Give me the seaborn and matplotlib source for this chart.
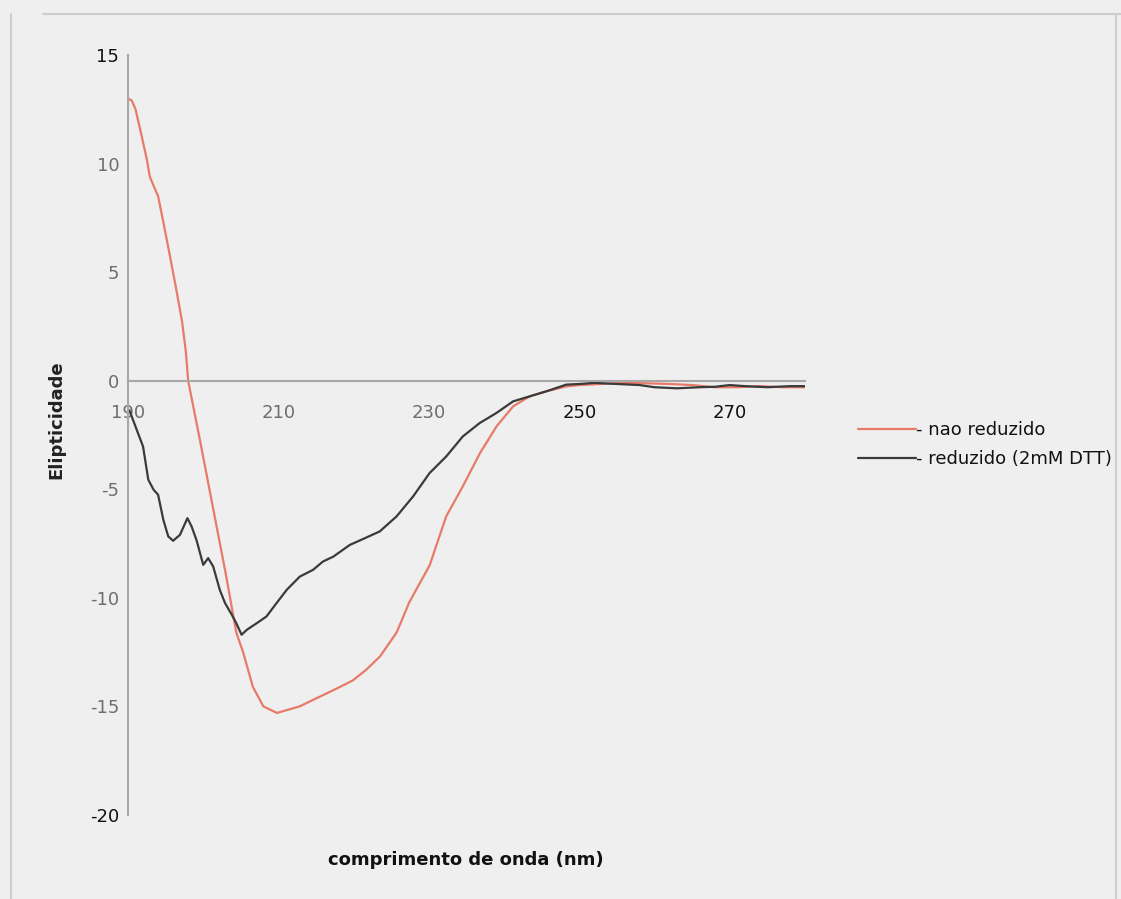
import numpy as np
import pandas as pd
import matplotlib
matplotlib.use("Agg")
import matplotlib.pyplot as plt
import seaborn as sns
from matplotlib.lines import Line2D

# ---- data ----
wl_nao = [190.0, 190.5, 191.0, 191.6, 192.5, 192.9, 193.5, 194.0, 194.7, 195.6, 196.5, 197.2,
          197.7, 198.0, 199.6, 201.3, 203.0, 204.4, 205.3, 206.6, 208.0, 209.8, 212.8, 215.5,
          218.2, 219.9, 221.7, 223.5, 225.7, 227.4, 230.1, 232.3, 234.5, 236.8, 239.0, 241.2,
          243.4, 245.6, 248.3, 250.0, 253.0, 256.0, 259.0, 262.0, 265.0, 268.0, 271.0, 274.0,
          277.0, 280.0]
val_nao = [13.0, 12.9, 12.5, 11.6, 10.2, 9.4, 8.9, 8.5, 7.3, 5.7, 4.05, 2.7,
           1.3, 0.0, -2.8, -5.85, -8.9, -11.6, -12.5, -14.1, -15.0, -15.3, -15.0, -14.55,
           -14.1, -13.8, -13.3, -12.7, -11.6, -10.2, -8.5, -6.25, -4.87, -3.33, -2.1, -1.18,
           -0.72, -0.49, -0.26, -0.2, -0.15, -0.1, -0.12, -0.15, -0.2, -0.3, -0.3, -0.25,
           -0.3, -0.3]

wl_red = [190.0, 190.3, 192.0, 192.7, 193.4, 194.0, 194.7, 195.35, 196.0, 196.9, 197.9, 198.45,
          199.1, 200.0, 200.66, 201.33, 202.2, 202.9, 203.8, 204.4, 205.1, 205.8, 207.1, 208.4,
          209.75, 211.1, 212.84, 214.6, 215.9, 217.3, 219.5, 221.5, 223.47, 225.7, 227.9, 230.1,
          232.3, 234.5, 236.75, 238.96, 241.2, 243.4, 245.6, 248.26, 250.0, 252.0, 255.0, 258.0,
          260.0, 263.0, 266.0, 268.0, 270.0, 272.0, 275.0, 278.0, 280.0]
val_red = [-1.3, -1.47, -3.03, -4.56, -5.02, -5.25, -6.41, -7.17, -7.37, -7.1, -6.33, -6.71,
           -7.33, -8.48, -8.17, -8.56, -9.63, -10.24, -10.78, -11.17, -11.7, -11.47, -11.17, -10.86,
           -10.24, -9.63, -9.02, -8.71, -8.33, -8.1, -7.56, -7.25, -6.94, -6.25, -5.33, -4.25,
           -3.49, -2.57, -1.95, -1.49, -0.95, -0.72, -0.49, -0.18, -0.15, -0.1, -0.15, -0.2,
           -0.3, -0.35, -0.3, -0.28, -0.2, -0.25, -0.3, -0.25, -0.25]

series_names = ["- nao reduzido", "- reduzido (2mM DTT)"]
series_colors = ["#e77a68", "#3a3a3a"]
x_ticks = [190, 210, 230, 250, 270]
y_ticks = [-20, -15, -10, -5, 0, 5, 10, 15]

df = pd.concat([
    pd.DataFrame({"wl": wl_nao, "val": val_nao, "serie": series_names[0]}),
    pd.DataFrame({"wl": wl_red, "val": val_red, "serie": series_names[1]}),
], ignore_index=True)

# ---- figure ----
sns.set_theme(style="white")
plt.rcParams["font.family"] = ["DejaVu Sans"]
BG = "#efefef"
W, H = 1121, 899
fig = plt.figure(figsize=(W / 100, H / 100), dpi=100, facecolor=BG)
ax = fig.add_axes([128 / W, 1 - 815 / H, (805 - 128) / W, (815 - 55) / H])
ax.set_facecolor(BG)

sns.lineplot(data=df, x="wl", y="val", hue="serie", palette=series_colors,
             hue_order=series_names, sort=False, estimator=None, ax=ax,
             linewidth=1.6, legend=False)

ax.set_xlim(190, 280)
ax.set_ylim(-20, 15)
ax.set_xticks(x_ticks)
ax.set_yticks(y_ticks)
ax.set_xticklabels([str(t) for t in x_ticks])
ax.set_yticklabels([str(t) for t in y_ticks])

for s in ["top", "right"]:
    ax.spines[s].set_visible(False)
ax.spines["bottom"].set_position(("data", 0))
ax.spines["bottom"].set_color("#a8a8a8")
ax.spines["left"].set_color("#a8a8a8")
ax.spines["bottom"].set_linewidth(1.5)
ax.spines["left"].set_linewidth(1.5)

ax.tick_params(axis="x", direction="inout", length=4, width=1, color="#b0b0b0",
               pad=15, labelsize=13)
ax.tick_params(axis="y", direction="out", length=4.3, width=1, color="#b0b0b0",
               pad=2, labelsize=13)

dark_x = {250, 270}
for t, lab in zip(x_ticks, ax.get_xticklabels()):
    lab.set_color("#111111" if t in dark_x else "#6e6e6e")
dark_y = {15, -20}
for t, lab in zip(y_ticks, ax.get_yticklabels()):
    lab.set_color("#111111" if t in dark_y else "#6e6e6e")

ax.set_xlabel("")
ax.set_ylabel("")

fig.text(56 / W, 1 - 420 / H, "Elipticidade", rotation=90, ha="center", va="center",
         fontsize=13, fontweight="bold", color="#222222")
fig.text(466 / W, 1 - 860 / H, "comprimento de onda (nm)", ha="center", va="center",
         fontsize=13, fontweight="bold", color="#111111")

handles = [Line2D([], [], color=c, lw=1.6) for c in series_colors]
fig.legend(handles, series_names, loc="upper left",
           bbox_to_anchor=(842 / W, 1 - 405 / H), frameon=False, fontsize=13,
           handlelength=3.2, handletextpad=0.0, labelspacing=0.6, labelcolor="#111111")

# outer frame lines of the scanned page
for xs, ys in [((11, 11), (14, H)), ((1116, 1116), (14, H)), ((43, W), (14, 14))]:
    fig.add_artist(Line2D([x / W for x in xs], [1 - y / H for y in ys],
                          color="#cdcdcd", lw=1.5, transform=fig.transFigure))

fig.savefig("out.png", dpi=100, facecolor=BG)
